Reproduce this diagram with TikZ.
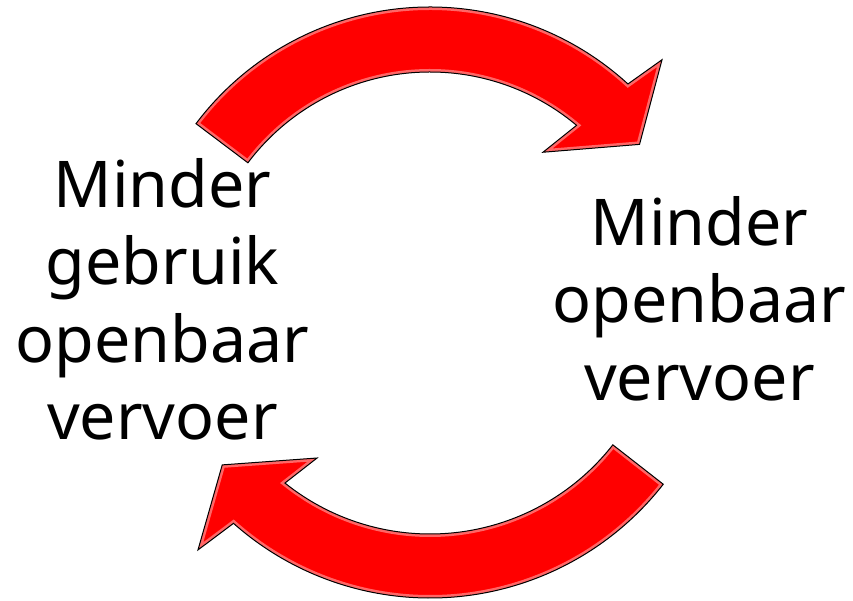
\documentclass[tikz,border=0pt]{standalone}
\usepackage{fontspec}
\setmainfont{Noto Sans}
\tikzset{
  cyclearrow/.style={fill=red, line join=miter},
  arrowedge/.style={draw=black, line width=1pt, line join=miter},
  arrowgloss/.style={draw=white, opacity=0.4, line width=6pt, line join=miter},
  cycletext/.style={align=center, inner sep=0pt, anchor=north,
    font=\fontsize{64.5}{77.5}\selectfont}
}
\begin{document}
\begin{tikzpicture}[x=1pt,y=1pt]
  \useasboundingbox (0,0) rectangle (853,600);
  % upper arrow
  \path[save path=\uparrowpath, shift={(430,300)}] (143:293)
    arc[start angle=143, end angle=47.5, radius=293]
    -- (46:334) -- (36.6:261) -- (52.6:186) -- (50:228)
    arc[start angle=50, end angle=143, radius=228] -- cycle;
  % lower arrow
  \path[save path=\lowarrowpath, shift={(430,298)}] (322:296)
    arc[start angle=322, end angle=228.4, radius=296]
    -- (226.9:339.6) -- (218.1:264) -- (234.1:192.6) -- (231.3:232)
    arc[start angle=231.3, end angle=322, radius=232] -- cycle;
  % fill, soft edge and outline
  \fill[cyclearrow, use path=\uparrowpath];
  \fill[cyclearrow, use path=\lowarrowpath];
  \begin{scope}
    \clip[use path=\uparrowpath];
    \draw[arrowgloss, use path=\uparrowpath];
  \end{scope}
  \begin{scope}
    \clip[use path=\lowarrowpath];
    \draw[arrowgloss, use path=\lowarrowpath];
  \end{scope}
  \draw[arrowedge, use path=\uparrowpath];
  \draw[arrowedge, use path=\lowarrowpath];
  % labels
  \node[cycletext] (gebruik) at (162.5,442) {Minder\\gebruik\\openbaar\\vervoer};
  \node[cycletext] (aanbod) at (699.5,404) {Minder\\openbaar\\vervoer};
\end{tikzpicture}
\end{document}
